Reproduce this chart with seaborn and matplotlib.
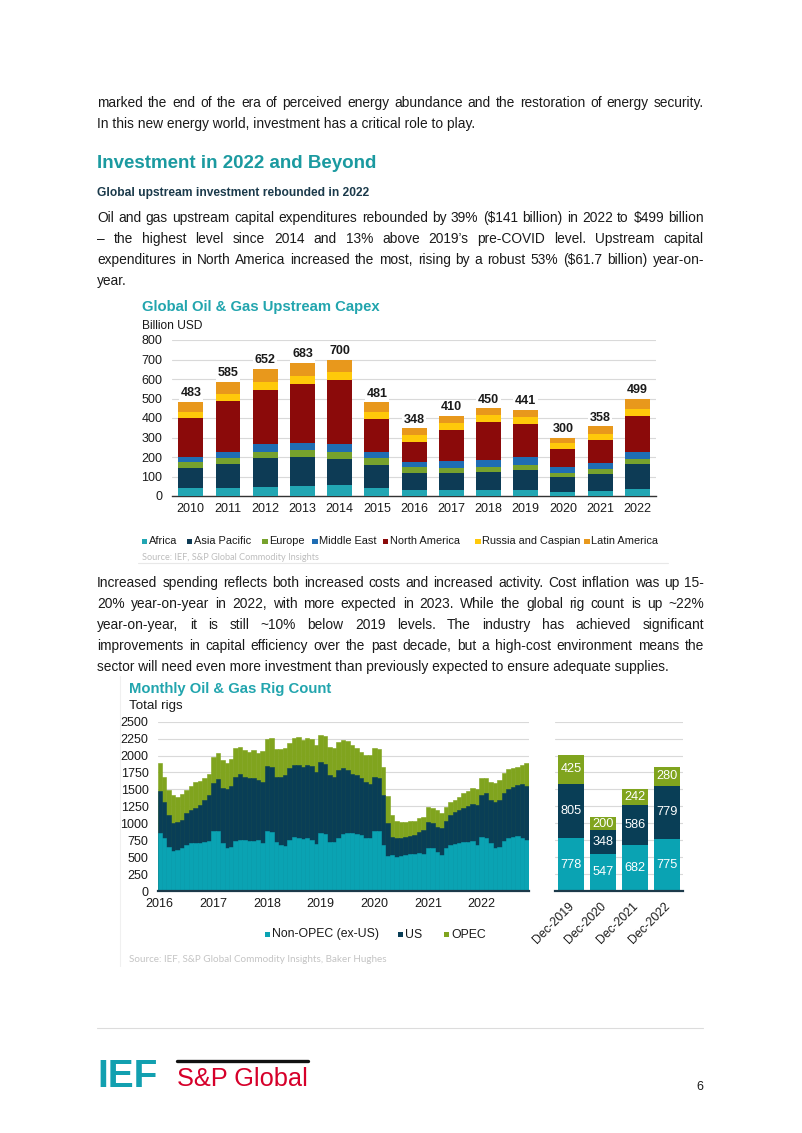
import matplotlib
matplotlib.use('Agg')
import matplotlib.pyplot as plt
import seaborn as sns
import numpy as np
import pandas as pd
from matplotlib.patches import Rectangle
from matplotlib.lines import Line2D
from matplotlib import font_manager as fm

# ---------------- data ----------------
years = ['2010', '2011', '2012', '2013', '2014', '2015', '2016',
         '2017', '2018', '2019', '2020', '2021', '2022']
regions = ['Africa', 'Asia Pacific', 'Europe', 'Middle East',
           'North America', 'Russia and Caspian', 'Latin America']
africa = [39, 43, 48, 51, 56, 43, 31, 31, 31, 31, 22, 27, 34]
asia_pacific = [106, 123, 149, 147, 134, 116, 89, 85, 90, 102, 77, 84, 128]
europe = [29, 31, 30, 38, 37, 34, 27, 29, 26, 26, 21, 26, 26]
middle_east = [28, 29, 38, 34, 40, 33, 29, 34, 38, 43, 30, 34, 39]
north_america = [196, 259, 278, 306, 328, 169, 99, 159, 193, 165, 89, 116, 183]
russia_caspian = [34, 38, 43, 39, 41, 37, 38, 38, 37, 40, 31, 29, 36]
latin_america = [51, 62, 66, 68, 64, 49, 35, 34, 35, 34, 30, 42, 53]

# monthly rig count, Jan 2016 - Nov 2022
rig_years = ['2016', '2017', '2018', '2019', '2020', '2021', '2022']
non_opec = [850, 777, 650, 585, 605, 630, 680, 704, 713, 704, 728, 738,
            886, 886, 704, 640, 645, 738, 753, 753, 738, 738, 753, 704,
            890, 870, 720, 680, 670, 760, 800, 790, 770, 790, 760, 700,
            850, 840, 720, 720, 780, 840, 855, 860, 840, 820, 790, 778,
            890, 880, 680, 520, 531, 507, 520, 531, 541, 541, 560, 547,
            640, 630, 580, 532, 630, 679, 690, 704, 718, 728, 735, 682,
            792, 777, 704, 640, 654, 738, 777, 802, 817, 790, 753]
us_rigs = [626, 532, 472, 415, 418, 418, 466, 492, 517, 565, 615, 679,
           714, 764, 821, 865, 910, 950, 969, 935, 935, 935, 885, 910,
           950, 965, 967, 1007, 1041, 1050, 1059, 1069, 1064, 1069, 1089, 1060,
           1049, 1029, 991, 967, 1005, 970, 930, 861, 871, 842, 823, 805,
           800, 792, 735, 480, 271, 270, 260, 271, 276, 286, 306, 348,
           383, 369, 370, 393, 403, 443, 481, 492, 512, 532, 544, 586,
           625, 665, 639, 669, 689, 704, 728, 738, 747, 784, 802]
opec_rigs = [414, 381, 368, 415, 369, 377, 344, 359, 384, 355, 330, 305,
             383, 382, 409, 389, 393, 418, 399, 393, 374, 408, 394, 446,
             410, 425, 413, 403, 394, 370, 404, 419, 395, 404, 394, 400,
             404, 424, 409, 418, 419, 419, 429, 434, 394, 394, 394, 425,
             420, 428, 419, 400, 320, 256, 243, 221, 216, 213, 206, 200,
             222, 221, 246, 221, 212, 187, 172, 196, 212, 216, 236, 242,
             256, 221, 271, 280, 295, 295, 295, 280, 271, 286, 329]

dec_labels = ['Dec-2019', 'Dec-2020', 'Dec-2021', 'Dec-2022']
dec_non_opec = [778, 547, 682, 775]
dec_us = [805, 348, 586, 779]
dec_opec = [425, 200, 242, 280]

# ---------------- style ----------------
W, H = 802, 1133
sns.set_style('white')
plt.rcParams['font.family'] = ['Liberation Sans', 'DejaVu Sans']

TEAL_HEAD = '#1B9AA0'
TEAL_TITLE = '#22A5AE'
TXT = '#1a1a1a'
GRID = '#d9d9d9'
cap_colors = ['#22A6B3', '#0D3B55', '#77A22D', '#1F6DB3', '#8B0A0A', '#FFC90A', '#E8981C']
rig_colors = ['#0AA3B3', '#093E56', '#80A41E']

fig = plt.figure(figsize=(W / 100, H / 100), dpi=100, facecolor='white')
R = fig.canvas.get_renderer()


def fx(x):
    return x / W


def fy(y):
    return 1 - y / H


def add_ax(x0, x1, y0, y1):
    return fig.add_axes([x0 / W, 1 - y1 / H, (x1 - x0) / W, (y1 - y0) / H])


def width_of(s, size, **kw):
    t = fig.text(0, 0, s, fontsize=size, parse_math=False, **kw)
    w = t.get_window_extent(renderer=R).width
    t.remove()
    return w


def fit_text(s, x0, x1, yb, **kw):
    size = 10 * (x1 - x0) / width_of(s, 10, **kw)
    fig.text(fx(x0), fy(yb), s, fontsize=size, va='baseline', ha='left',
             parse_math=False, **kw)
    return size


names = {f.name for f in fm.fontManager.ttflist}
body_fam = ['Liberation Sans Narrow', 'DejaVu Sans'] if 'Liberation Sans Narrow' in names \
    else ['Liberation Sans', 'DejaVu Sans']

X0, X1 = 97, 704
para0 = [("marked the end of the era of perceived energy abundance and the restoration of energy security.", True),
         ("In this new energy world, investment has a critical role to play.", False)]
para1 = [("Oil and gas upstream capital expenditures rebounded by 39% ($141 billion) in 2022 to $499 billion", True),
         ("\u2013 the highest level since 2014 and 13% above 2019\u2019s pre-COVID level.  Upstream capital", True),
         ("expenditures in North America increased the most, rising by a robust 53% ($61.7 billion) year-on-", True),
         ("year.", False)]
para2 = [("Increased spending reflects both increased costs and increased activity.  Cost inflation was up 15-", True),
         ("20% year-on-year in 2022, with more expected in 2023.  While the global rig count is up ~22%", True),
         ("year-on-year, it is still ~10% below 2019 levels.   The industry has achieved significant", True),
         ("improvements in capital efficiency over the past decade, but a high-cost environment means the", True),
         ("sector will need even more investment than previously expected to ensure adequate supplies.", False)]

ratios = []
for p in (para0, para1, para2):
    for s, j in p:
        if j:
            ratios.append((X1 - X0) / width_of(s, 10, family=body_fam))
body_size = min(11.0, 10 * min(ratios) * 0.985)


def draw_para(lines, y_first, spacing=21):
    for k, (s, just) in enumerate(lines):
        yb = y_first + k * spacing + 4
        if not just:
            fig.text(fx(X0), fy(yb), s, fontsize=body_size, family=body_fam, color=TXT,
                     va='baseline', ha='left', parse_math=False)
            continue
        words = s.split()
        wds = [width_of(w, body_size, family=body_fam) for w in words]
        gap = (X1 - X0 - sum(wds)) / (len(words) - 1)
        x = X0
        for w, wd in zip(words, wds):
            fig.text(fx(x), fy(yb), w, fontsize=body_size, family=body_fam, color=TXT,
                     va='baseline', ha='left', parse_math=False)
            x += wd + gap


draw_para(para0, 103)
fit_text("Investment in 2022 and Beyond", 97, 378, 168, weight='bold', color=TEAL_HEAD)
fit_text("Global upstream investment rebounded in 2022", 97, 368, 196, weight='bold', color='#1b3a4b')
draw_para(para1, 218)
draw_para(para2, 583)

# ---------------- chart 1: capex ----------------
fit_text("Global Oil & Gas Upstream Capex", 141.8, 381, 311, weight='bold', color=TEAL_TITLE)
fit_text("Billion USD", 141.8, 202.5, 329, color=TXT)

ax1 = add_ax(172.2, 656, 340, 496)
cap = np.array([africa, asia_pacific, europe, middle_east, north_america,
                russia_caspian, latin_america])
cum = np.cumsum(cap, axis=0)
for k in reversed(range(len(regions))):
    sns.barplot(x=years, y=cum[k], color=cap_colors[k], width=0.67, saturation=1,
                linewidth=0, errorbar=None, ax=ax1, zorder=3)
totals = cum[-1]
for i, t in enumerate(totals):
    ax1.annotate(str(int(t)), xy=(i, t), xytext=(0, 4), textcoords='offset points',
                 ha='center', va='baseline', fontsize=9, weight='bold', color=TXT,
                 bbox=dict(fc='white', ec='none', pad=1.2), zorder=4)
ax1.set_ylim(0, 800)
ax1.set_xlim(-0.5, 12.5)
ax1.set_yticks(range(0, 801, 100))
ax1.yaxis.grid(True, color=GRID, lw=0.8)
ax1.set_axisbelow(True)
for sp in ('top', 'right', 'left'):
    ax1.spines[sp].set_visible(False)
ax1.spines['bottom'].set_color('#333333')
ax1.spines['bottom'].set_linewidth(1.0)
ax1.tick_params(axis='both', length=0, labelsize=9, colors=TXT)
ax1.tick_params(axis='y', pad=7)
ax1.tick_params(axis='x', pad=5)
ax1.set_xlabel('')
ax1.set_ylabel('')

leg_x = [141.8, 186.7, 262, 312, 382.5, 475, 584]
for xs, lab, c in zip(leg_x, regions, cap_colors):
    fig.add_artist(Rectangle((fx(xs), fy(544)), 5.5 / W, 5.5 / H, transform=fig.transFigure,
                             fc=c, ec='none'))
    fig.text(fx(xs + 7), fy(544.5), lab, fontsize=7.9, color=TXT, va='baseline', ha='left')
fit_text("Source: IEF, S&P Global Commodity Insights", 141.7, 319, 560, color='#bdbdbd',
         family=['Lato', 'DejaVu Sans'])
fig.add_artist(Line2D([fx(138), fx(668)], [fy(563), fy(563)], color='#e8e8e8', lw=0.8))

# ---------------- chart 2: monthly rigs ----------------
fit_text("Monthly Oil & Gas Rig Count", 129, 331.7, 692.5, weight='bold', color=TEAL_TITLE)
fit_text("Total rigs", 129, 183, 709.5, color=TXT)
fig.add_artist(Line2D([fx(120), fx(120)], [fy(676), fy(966)], color='#f0f0f0', lw=0.8))

ax2 = add_ax(157.5, 528.5, 721.7, 891)
months = list(range(len(non_opec)))
l1 = np.array(non_opec)
l2 = l1 + np.array(us_rigs)
l3 = l2 + np.array(opec_rigs)
for vals, c in zip([l3, l2, l1], rig_colors[::-1]):
    sns.barplot(x=months, y=vals, color=c, width=1.0, saturation=1, linewidth=0.4,
                edgecolor=c, errorbar=None, ax=ax2, zorder=3)
ax2.set_ylim(0, 2500)
ax2.set_xlim(-0.5, len(months) - 0.5)
ax2.set_yticks(range(0, 2501, 250))
ax2.set_xticks([12 * k for k in range(len(rig_years))])
ax2.set_xticklabels(rig_years)
ax2.yaxis.grid(True, color=GRID, lw=0.8)
ax2.set_axisbelow(True)
for sp in ('top', 'right', 'left'):
    ax2.spines[sp].set_visible(False)
ax2.spines['bottom'].set_color('#1c3a4a')
ax2.spines['bottom'].set_linewidth(1.6)
ax2.spines['bottom'].set_zorder(5)
ax2.tick_params(axis='both', length=0, labelsize=9, colors=TXT)
ax2.tick_params(axis='y', pad=6.5)
ax2.tick_params(axis='x', pad=5)
ax2.set_xlabel('')
ax2.set_ylabel('')

rig_names = ['Non-OPEC (ex-US)', 'US', 'OPEC']
for xs, lab, c in zip([265, 398, 444], rig_names, rig_colors):
    fig.add_artist(Rectangle((fx(xs), fy(936.5)), 5 / W, 5 / H, transform=fig.transFigure,
                             fc=c, ec='none'))
    fig.text(fx(xs + 7), fy(937.5), lab, fontsize=8.8, color=TXT, va='baseline', ha='left')
fit_text("Source: IEF, S&P Global Commodity Insights, Baker Hughes", 129, 385, 962.5,
         color='#c4c4c4', family=['Lato', 'DejaVu Sans'])

# ---------------- chart 3: December snapshots ----------------
ax3 = add_ax(555, 683, 721.7, 891)
d1 = np.array(dec_non_opec)
d2 = d1 + np.array(dec_us)
d3 = d2 + np.array(dec_opec)
for vals, c in zip([d3, d2, d1], rig_colors[::-1]):
    sns.barplot(x=dec_labels, y=vals, color=c, width=0.8, saturation=1, linewidth=0,
                errorbar=None, ax=ax3, zorder=3)
for i in range(len(dec_labels)):
    for bottom, v in ((0, dec_non_opec[i]), (d1[i], dec_us[i]), (d2[i], dec_opec[i])):
        ax3.text(i, bottom + v / 2, str(v), ha='center', va='center', fontsize=9.2,
                 color='white', zorder=4)
    ax3.annotate(dec_labels[i], xy=(i, 0), xycoords=('data', 'axes fraction'),
                 xytext=(1, -9.5), textcoords='offset points', rotation=45,
                 rotation_mode='anchor', ha='right', va='center', fontsize=8.8, color=TXT)
ax3.set_ylim(0, 2500)
ax3.set_xlim(-0.5, 3.5)
ax3.set_yticks(range(0, 2501, 250))
ax3.set_yticklabels([])
ax3.set_xticks([])
ax3.yaxis.grid(True, color=GRID, lw=0.8)
ax3.set_axisbelow(True)
for sp in ('top', 'right', 'left'):
    ax3.spines[sp].set_visible(False)
ax3.spines['bottom'].set_color('#1c3a4a')
ax3.spines['bottom'].set_linewidth(1.6)
ax3.spines['bottom'].set_zorder(5)
ax3.tick_params(axis='both', length=0)
ax3.set_xlabel('')
ax3.set_ylabel('')

# ---------------- footer ----------------
fig.add_artist(Line2D([fx(97), fx(703)], [fy(1028), fy(1028)], color='#dcdcdc', lw=0.8))
fit_text("IEF", 97, 157, 1087, weight='bold', color='#12A0B0')
fig.add_artist(Line2D([fx(177), fx(308)], [fy(1061), fy(1061)], color='#111111', lw=2.4))
fit_text("S&P Global", 177, 308, 1086, color='#D6002A')
fig.text(fx(700), fy(1090), "6", fontsize=9, color=TXT, ha='center', va='baseline')

fig.savefig('out.png', dpi=100, facecolor='white')
